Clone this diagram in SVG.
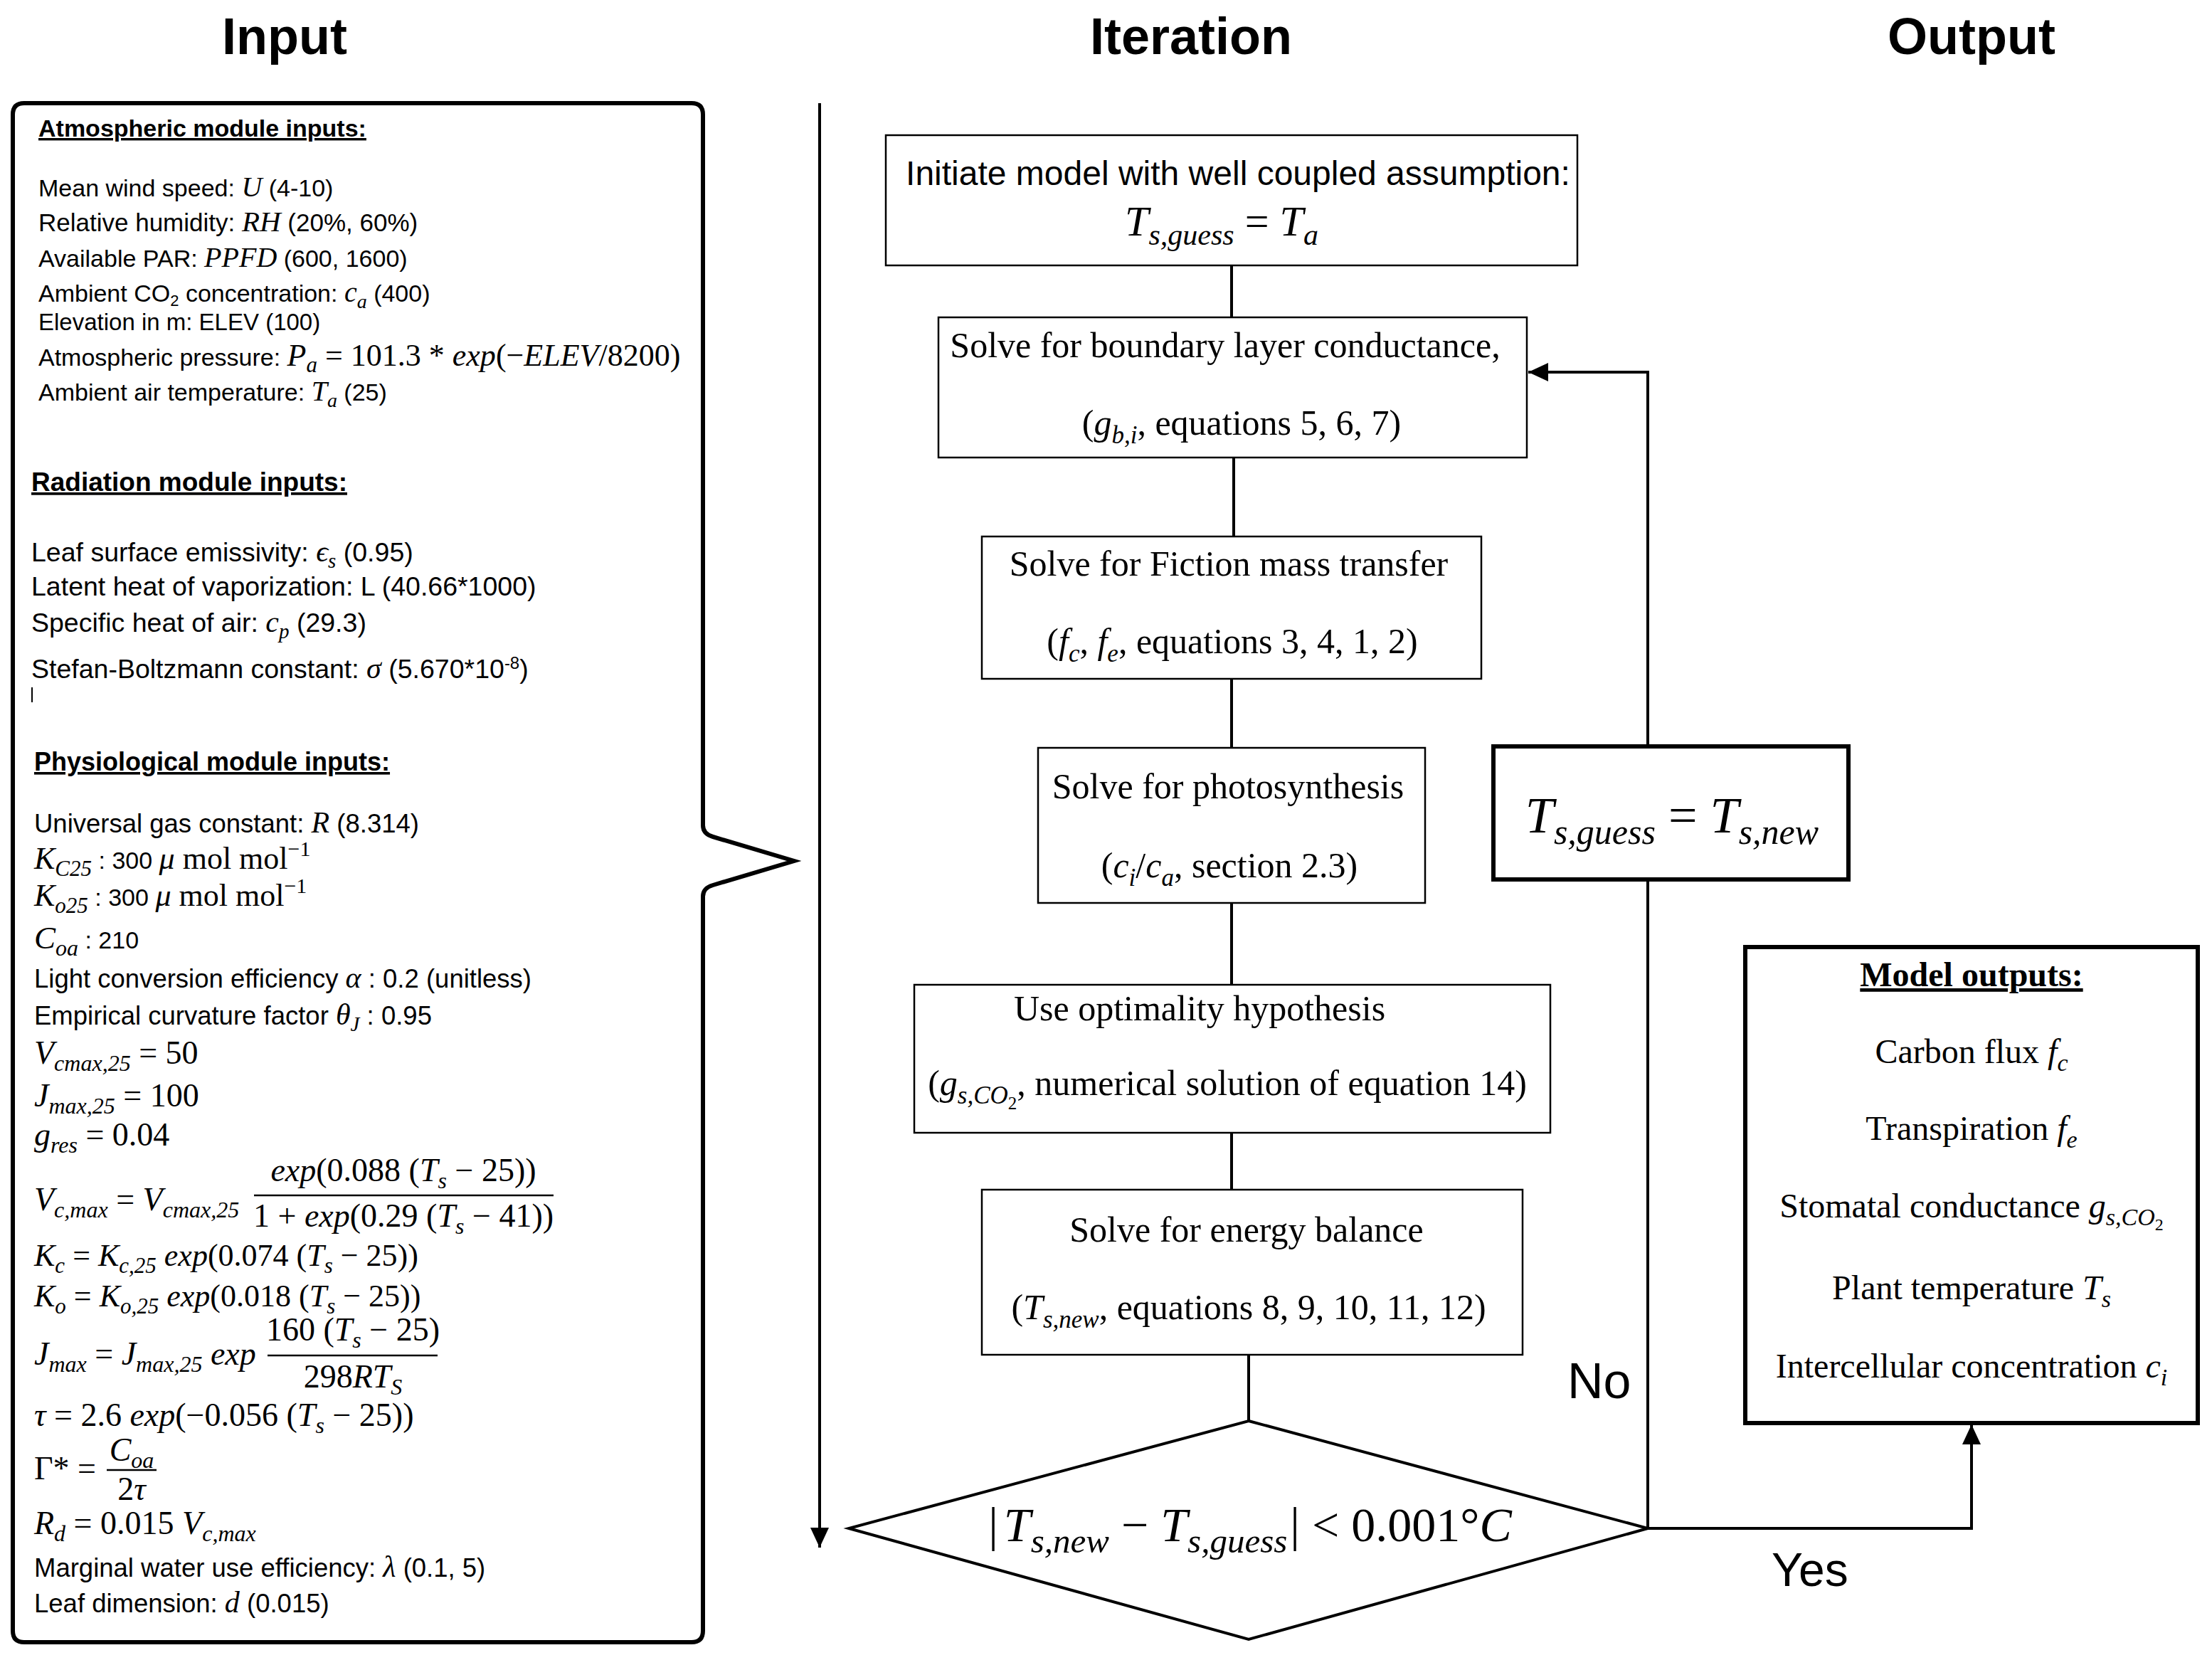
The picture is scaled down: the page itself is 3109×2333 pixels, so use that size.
<svg xmlns="http://www.w3.org/2000/svg" width="3109" height="2333" viewBox="0 0 3109 2333">
<style>
.ttl{font-family:"Liberation Sans",Arial,sans-serif;font-weight:bold;font-size:72px;text-anchor:middle;}
.s{font-family:"Liberation Sans",Arial,sans-serif;font-size:34px;}
.s2{font-family:"Liberation Sans",Arial,sans-serif;font-size:37.5px;}
.s3{font-family:"Liberation Sans",Arial,sans-serif;font-size:36.5px;}
.hd{font-family:"Liberation Sans",Arial,sans-serif;font-weight:bold;text-decoration:underline;}
.m{font-family:"Liberation Serif","Times New Roman",serif;font-size:46px;}
.i{font-family:"Liberation Serif","Times New Roman",serif;font-style:italic;}
.r{font-family:"Liberation Serif","Times New Roman",serif;font-style:normal;}
.b{font-family:"Liberation Serif","Times New Roman",serif;font-size:50px;text-anchor:middle;}
.o{font-family:"Liberation Serif","Times New Roman",serif;font-size:48px;text-anchor:middle;}
.lbl{font-family:"Liberation Sans",Arial,sans-serif;font-size:70px;}
.box{fill:#fff;stroke:#000;stroke-width:2.5;}
.thick{fill:#fff;stroke:#000;stroke-width:6;}
.ln{fill:none;stroke:#000;stroke-width:4;}
.bar{stroke:#000;stroke-width:2.5;}
</style>
<defs>
<marker id="ah" markerWidth="28" markerHeight="26" refX="28" refY="13" orient="auto" markerUnits="userSpaceOnUse"><path d="M0,0 L28,13 L0,26 Z" fill="#000"/></marker>
</defs>
<rect width="3109" height="2333" fill="#fff"/>

<g id="titles">
<text class="ttl" x="400" y="76">Input</text>
<text class="ttl" x="1674" y="76">Iteration</text>
<text class="ttl" x="2771" y="76">Output</text>
</g>

<g id="input-panel">
<path class="thick" d="M34,145 H972 Q988,145 988,161 V1160 Q988,1172 1002,1176 L1116,1210 L1002,1244 Q988,1248 988,1260 V2292 Q988,2308 972,2308 H34 Q18,2308 18,2292 V161 Q18,145 34,145 Z"/>
<g id="atmospheric-inputs">
<text class="hd" x="54" y="192" font-size="34">Atmospheric module inputs:</text>
<text class="s" x="54" y="276">Mean wind speed: <tspan class="i" font-size="40">U</tspan> (4-10)</text>
<text class="s" x="54" y="325" style="font-size:35px">Relative humidity: <tspan class="i" font-size="41">RH</tspan> (20%, 60%)</text>
<text class="s" x="54" y="375">Available PAR: <tspan class="i" font-size="40">PPFD</tspan> (600, 1600)</text>
<text class="s" x="54" y="424">Ambient CO<tspan font-size="22" dy="6">2</tspan><tspan dy="-6"> concentration: </tspan><tspan class="i" font-size="40">c</tspan><tspan class="i" font-size="28" dy="9">a</tspan><tspan dy="-9"> (400)</tspan></text>
<text class="s" x="54" y="464" style="font-size:33px">Elevation in m: ELEV (100)</text>
<text class="s" x="54" y="514">Atmospheric pressure: <tspan class="i" font-size="44">P</tspan><tspan class="i" font-size="31" dy="9">a</tspan><tspan class="r" font-size="44" dy="-9"> = 101.3 * </tspan><tspan class="i" font-size="44">exp</tspan><tspan class="r" font-size="44">(−</tspan><tspan class="i" font-size="44">ELEV</tspan><tspan class="r" font-size="44">/8200)</tspan></text>
<text class="s" x="54" y="563">Ambient air temperature: <tspan class="i" font-size="40">T</tspan><tspan class="i" font-size="28" dy="9">a</tspan><tspan dy="-9"> (25)</tspan></text>
</g>
<g id="radiation-inputs">
<text class="hd" x="44" y="690" font-size="37">Radiation module inputs:</text>
<text class="s2" x="44" y="789">Leaf surface emissivity: <tspan class="i" font-size="42">ϵ</tspan><tspan class="i" font-size="29" dy="9">s</tspan><tspan dy="-9"> (0.95)</tspan></text>
<text class="s2" x="44" y="837">Latent heat of vaporization: L (40.66*1000)</text>
<text class="s2" x="44" y="888">Specific heat of air: <tspan class="i" font-size="42">c</tspan><tspan class="i" font-size="29" dy="9">p</tspan><tspan dy="-9"> (29.3)</tspan></text>
<text class="s2" x="44" y="953">Stefan-Boltzmann constant: <tspan class="i" font-size="42">σ</tspan> (5.670*10<tspan font-size="24" dy="-13">-8</tspan><tspan dy="13">)</tspan></text>
<line x1="45" y1="966" x2="45" y2="987" stroke="#000" stroke-width="2"/>
</g>
<g id="physiological-inputs">
<text class="hd" x="48" y="1083" font-size="36">Physiological module inputs:</text>
<text class="s3" x="48" y="1170">Universal gas constant: <tspan class="i" font-size="42">R</tspan> (8.314)</text>
<text class="s" x="48" y="1221"><tspan class="i" font-size="44">K</tspan><tspan class="i" font-size="31" dy="10">C25</tspan><tspan dy="-10"> : 300 </tspan><tspan class="i" font-size="44">μ</tspan><tspan class="r" font-size="44"> mol mol</tspan><tspan class="r" font-size="30" dy="-18">−1</tspan></text>
<text class="s" x="48" y="1273"><tspan class="i" font-size="44">K</tspan><tspan class="i" font-size="31" dy="10">o25</tspan><tspan dy="-10"> : 300 </tspan><tspan class="i" font-size="44">μ</tspan><tspan class="r" font-size="44"> mol mol</tspan><tspan class="r" font-size="30" dy="-18">−1</tspan></text>
<text class="s" x="48" y="1333"><tspan class="i" font-size="45">C</tspan><tspan class="i" font-size="32" dy="10">oa</tspan><tspan dy="-10"> : 210</tspan></text>
<text class="s3" x="48" y="1388">Light conversion efficiency <tspan class="i" font-size="42">α</tspan> : 0.2 (unitless)</text>
<text class="s3" x="48" y="1440">Empirical curvature factor <tspan class="i" font-size="42">θ</tspan><tspan class="i" font-size="29" dy="9">J</tspan><tspan dy="-9"> : 0.95</tspan></text>
<text class="m" x="48" y="1495"><tspan class="i">V</tspan><tspan class="i" font-size="32" dy="10">cmax,25</tspan><tspan dy="-10"> = 50</tspan></text>
<text class="m" x="48" y="1555"><tspan class="i">J</tspan><tspan class="i" font-size="32" dy="10">max,25</tspan><tspan dy="-10"> = 100</tspan></text>
<text class="m" x="48" y="1610"><tspan class="i">g</tspan><tspan class="i" font-size="32" dy="10">res</tspan><tspan dy="-10"> = 0.04</tspan></text>
<text class="m" x="48" y="1701"><tspan class="i">V</tspan><tspan class="i" font-size="32" dy="10">c,max</tspan><tspan dy="-10"> = </tspan><tspan class="i">V</tspan><tspan class="i" font-size="32" dy="10">cmax,25</tspan></text>
<line class="bar" x1="357" y1="1680" x2="778" y2="1680"/>
<text class="m" x="567" y="1660" text-anchor="middle"><tspan class="i">exp</tspan>(0.088 (<tspan class="i">T</tspan><tspan class="i" font-size="32" dy="10">s</tspan><tspan dy="-10"> − 25))</tspan></text>
<text class="m" x="567" y="1724" text-anchor="middle">1 + <tspan class="i">exp</tspan>(0.29 (<tspan class="i">T</tspan><tspan class="i" font-size="32" dy="10">s</tspan><tspan dy="-10"> − 41))</tspan></text>
<text class="m" x="48" y="1779" style="font-size:44px"><tspan class="i">K</tspan><tspan class="i" font-size="31" dy="10">c</tspan><tspan dy="-10"> = </tspan><tspan class="i">K</tspan><tspan class="i" font-size="31" dy="10">c,25</tspan><tspan class="i" dy="-10"> exp</tspan>(0.074 (<tspan class="i">T</tspan><tspan class="i" font-size="31" dy="10">s</tspan><tspan dy="-10"> − 25))</tspan></text>
<text class="m" x="48" y="1836" style="font-size:44px"><tspan class="i">K</tspan><tspan class="i" font-size="31" dy="10">o</tspan><tspan dy="-10"> = </tspan><tspan class="i">K</tspan><tspan class="i" font-size="31" dy="10">o,25</tspan><tspan class="i" dy="-10"> exp</tspan>(0.018 (<tspan class="i">T</tspan><tspan class="i" font-size="31" dy="10">s</tspan><tspan dy="-10"> − 25))</tspan></text>
<text class="m" x="48" y="1918"><tspan class="i">J</tspan><tspan class="i" font-size="32" dy="10">max</tspan><tspan dy="-10"> = </tspan><tspan class="i">J</tspan><tspan class="i" font-size="32" dy="10">max,25</tspan><tspan class="i" dy="-10"> exp</tspan></text>
<line class="bar" x1="376" y1="1905" x2="615" y2="1905"/>
<text class="m" x="496" y="1884" text-anchor="middle">160 (<tspan class="i">T</tspan><tspan class="i" font-size="32" dy="10">s</tspan><tspan dy="-10"> − 25)</tspan></text>
<text class="m" x="496" y="1950" text-anchor="middle">298<tspan class="i">RT</tspan><tspan class="i" font-size="32" dy="10">S</tspan></text>
<text class="m" x="48" y="2004"><tspan class="i">τ</tspan> = 2.6 <tspan class="i">exp</tspan>(−0.056 (<tspan class="i">T</tspan><tspan class="i" font-size="32" dy="10">s</tspan><tspan dy="-10"> − 25))</tspan></text>
<text class="m" x="48" y="2079">Γ* =</text>
<line class="bar" x1="150" y1="2066" x2="220" y2="2066"/>
<text class="m" x="185" y="2053" text-anchor="middle"><tspan class="i">C</tspan><tspan class="i" font-size="32" dy="10">oa</tspan></text>
<text class="m" x="185" y="2108" text-anchor="middle">2<tspan class="i">τ</tspan></text>
<text class="m" x="48" y="2156"><tspan class="i">R</tspan><tspan class="i" font-size="32" dy="10">d</tspan><tspan dy="-10"> = 0.015 </tspan><tspan class="i">V</tspan><tspan class="i" font-size="32" dy="10">c,max</tspan></text>
<text class="s3" x="48" y="2216">Marginal water use efficiency: <tspan class="i" font-size="42">λ</tspan> (0.1, 5)</text>
<text class="s3" x="48" y="2266">Leaf dimension: <tspan class="i" font-size="42">d</tspan> (0.015)</text>
</g>
</g>

<g id="connectors">
<path class="ln" d="M1152,145 V2175" marker-end="url(#ah)"/>
<line class="ln" x1="1731" y1="373" x2="1731" y2="446"/>
<line class="ln" x1="1734" y1="643" x2="1734" y2="754"/>
<line class="ln" x1="1731" y1="954" x2="1731" y2="1051"/>
<line class="ln" x1="1731" y1="1269" x2="1731" y2="1384"/>
<line class="ln" x1="1731" y1="1592" x2="1731" y2="1672"/>
<line class="ln" x1="1755" y1="1904" x2="1755" y2="1997"/>
<path class="ln" d="M2316,2148 V1236"/>
<path class="ln" d="M2316,1049 V523 H2148" marker-end="url(#ah)"/>
<path class="ln" d="M2316,2148 H2771 V2002" marker-end="url(#ah)"/>
<text class="lbl" x="2203" y="1965">No</text>
<text class="lbl" x="2490" y="2229" style="font-size:66px">Yes</text>
</g>

<g id="init">
<rect class="box" x="1245" y="190" width="972" height="183"/>
<text x="1740" y="260" font-family="Liberation Sans, Arial, sans-serif" font-size="48" text-anchor="middle">Initiate model with well coupled assumption:</text>
<text class="b" x="1717" y="331" style="font-size:60px"><tspan class="i">T</tspan><tspan class="i" font-size="42" dy="13">s,guess</tspan><tspan dy="-13"> = </tspan><tspan class="i">T</tspan><tspan class="i" font-size="42" dy="13">a</tspan></text>
</g>

<g id="boundary-layer">
<rect class="box" x="1319" y="446" width="827" height="197"/>
<text class="b" x="1722" y="502">Solve for boundary layer conductance,</text>
<text class="b" x="1745" y="611">(<tspan class="i">g</tspan><tspan class="i" font-size="35" dy="12">b,i</tspan><tspan dy="-12">, equations 5, 6, 7)</tspan></text>
</g>

<g id="mass-transfer">
<rect class="box" x="1380" y="754" width="702" height="200"/>
<text class="b" x="1727" y="809">Solve for Fiction mass transfer</text>
<text class="b" x="1732" y="918">(<tspan class="i">f</tspan><tspan class="i" font-size="35" dy="12">c</tspan><tspan dy="-12">, </tspan><tspan class="i">f</tspan><tspan class="i" font-size="35" dy="12">e</tspan><tspan dy="-12">, equations 3, 4, 1, 2)</tspan></text>
</g>

<g id="photosynthesis">
<rect class="box" x="1459" y="1051" width="544" height="218"/>
<text class="b" x="1726" y="1122">Solve for photosynthesis</text>
<text class="b" x="1728" y="1233">(<tspan class="i">c</tspan><tspan class="i" font-size="35" dy="12">i</tspan><tspan dy="-12">/</tspan><tspan class="i">c</tspan><tspan class="i" font-size="35" dy="12">a</tspan><tspan dy="-12">, section 2.3)</tspan></text>
</g>

<g id="optimality">
<rect class="box" x="1285" y="1384" width="894" height="208"/>
<text class="b" x="1686" y="1434">Use optimality hypothesis</text>
<text class="b" x="1725" y="1539">(<tspan class="i">g</tspan><tspan class="i" font-size="35" dy="12">s,CO</tspan><tspan font-size="25" dy="8">2</tspan><tspan dy="-20">, numerical solution of equation 14)</tspan></text>
</g>

<g id="energy-balance">
<rect class="box" x="1380" y="1672" width="760" height="232"/>
<text class="b" x="1752" y="1745">Solve for energy balance</text>
<text class="b" x="1755" y="1854">(<tspan class="i">T</tspan><tspan class="i" font-size="35" dy="12">s,new</tspan><tspan dy="-12">, equations 8, 9, 10, 11, 12)</tspan></text>
</g>

<g id="convergence">
<polygon points="1755,1997 2316,2148 1755,2304 1193,2148" fill="#fff" stroke="#000" stroke-width="4"/>
<text class="b" x="1757" y="2166" style="font-size:68px">|<tspan class="i" dx="8">T</tspan><tspan class="i" font-size="49" dy="16">s,new</tspan><tspan dy="-16"> − </tspan><tspan class="i">T</tspan><tspan class="i" font-size="49" dy="16">s,guess</tspan><tspan dy="-16" dx="4">| &lt; 0.001°</tspan><tspan class="i">C</tspan></text>
</g>

<g id="update-guess">
<rect class="thick" x="2099" y="1049" width="499" height="187"/>
<text class="b" x="2350" y="1170" style="font-size:72px"><tspan class="i">T</tspan><tspan class="i" font-size="50" dy="16">s,guess</tspan><tspan dy="-16"> = </tspan><tspan class="i">T</tspan><tspan class="i" font-size="50" dy="16">s,new</tspan></text>
</g>

<g id="outputs">
<rect class="thick" x="2453" y="1331" width="636" height="669"/>
<text class="o" x="2771" y="1386" font-weight="bold" text-decoration="underline">Model outputs:</text>
<text class="o" x="2771" y="1494">Carbon flux <tspan class="i">f</tspan><tspan class="i" font-size="34" dy="11">c</tspan></text>
<text class="o" x="2771" y="1602">Transpiration <tspan class="i">f</tspan><tspan class="i" font-size="34" dy="11">e</tspan></text>
<text class="o" x="2771" y="1711">Stomatal conductance <tspan class="i">g</tspan><tspan class="i" font-size="34" dy="11">s,CO</tspan><tspan font-size="24" dy="7">2</tspan></text>
<text class="o" x="2771" y="1826">Plant temperature <tspan class="i">T</tspan><tspan class="i" font-size="34" dy="11">s</tspan></text>
<text class="o" x="2771" y="1936">Intercellular concentration <tspan class="i">c</tspan><tspan class="i" font-size="34" dy="11">i</tspan></text>
</g>
</svg>
